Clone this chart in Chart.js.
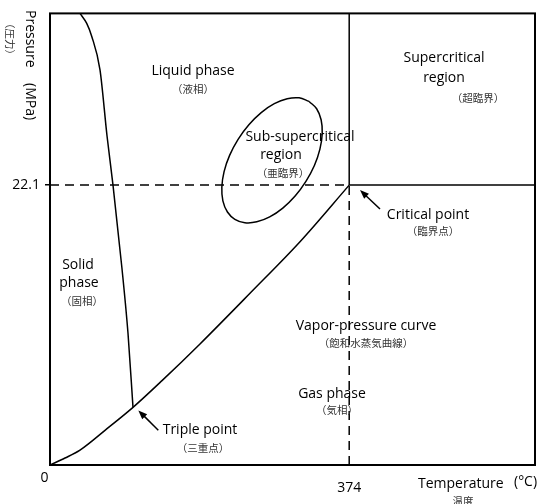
<!DOCTYPE html>
<html lang="en">
<head>
<meta charset="UTF-8">
<title>Phase diagram of water</title>
<script src="https://cdn.jsdelivr.net/npm/chart.js"></script>
<style>
  html, body { margin: 0; padding: 0; background: #fff; }
</style>
</head>
<body>
<canvas id="viz" width="541" height="504"></canvas>
<script>
// axis ticks (temperature in C, pressure in MPa)
const xTicks = [0, 374]
const xTickLabels = ['0   ', ['', '374']]
const yTicks = [22.1]
const xMax = 606.25
const yMax = 35.66

// melting curve (solid / liquid boundary)
const meltT = [37.5, 45.9, 52.1, 62.5, 71.25, 78.75, 90, 97.5, 103.75]
const meltP = [35.66, 34.87, 33.86, 31.2, 26.0, 22.1, 15.5, 10.4, 4.55]

// vapor-pressure curve, triple point -> critical point
const vapT = [0, 18.75, 37.5, 68.75, 103.75, 140, 187.5, 250, 312.5, 374]
const vapP = [0, 0.55, 1.18, 2.74, 4.55, 6.66, 9.56, 13.56, 17.63, 22.1]

// critical point
const critT = 374
const critP = 22.1

// outline of the sub-supercritical region (closed loop)
const ellT = [323.9, 333.3, 338.9, 340.3, 337.4, 330.5, 319.9, 306.4, 291.0, 274.6, 258.5, 243.6,
  231.1, 221.8, 216.1, 214.8, 217.6, 224.5, 235.1, 248.6, 264.0, 280.4, 296.5, 311.4, 323.9]
const ellP = [28.71, 28.13, 27.26, 26.18, 24.94, 23.65, 22.40, 21.24, 20.29, 19.59, 19.20, 19.13,
  19.40, 19.98, 20.86, 21.94, 23.17, 24.45, 25.72, 26.87, 27.83, 28.53, 28.92, 28.99, 28.71]

const pts = (xs, ys) => xs.map((x, i) => ({ x: x, y: ys[i] }))

const line = (data, extra) => Object.assign({
  data: data,
  showLine: true,
  pointRadius: 0,
  borderColor: '#000',
  borderWidth: 1.5,
  fill: false
}, extra || {})

const EN = '"Open Sans", "Noto Sans", sans-serif'
const JP = '"Noto Sans CJK JP", sans-serif'

// labels placed in data units
const notes = [
  { t: 'Liquid phase', x: 178.75, y: 31.11 },
  { t: '（液相）', x: 178.75, y: 29.7, jp: true },
  { t: 'Supercritical', x: 492.5, y: 32.13 },
  { t: 'region', x: 492.5, y: 30.56 },
  { t: '（超臨界）', x: 535, y: 29.0, jp: true },
  { t: 'Sub-supercritical', x: 312.5, y: 25.86 },
  { t: 'region', x: 288.75, y: 24.45 },
  { t: '（亜臨界）', x: 291.25, y: 23.04, jp: true },
  { t: 'Critical point', x: 472.5, y: 19.75 },
  { t: '（臨界点）', x: 478.75, y: 18.5, jp: true },
  { t: 'Solid', x: 35, y: 15.83 },
  { t: 'phase', x: 36.25, y: 14.34 },
  { t: '（固相）', x: 40, y: 12.93, jp: true },
  { t: 'Vapor-pressure curve', x: 395, y: 10.97 },
  { t: '（飽和水蒸気曲線）', x: 395, y: 9.64, jp: true },
  { t: 'Gas phase', x: 352.5, y: 5.64 },
  { t: '（気相）', x: 358.75, y: 4.31, jp: true },
  { t: 'Triple point', x: 187.5, y: 2.74 },
  { t: '（三重点）', x: 191.25, y: 1.33, jp: true }
]

const arrows = [
  { from: [412.5, 20.22], to: [387.5, 21.71] },
  { from: [135.4, 2.74], to: [110.4, 4.31] }
]

const decor = {
  id: 'decor',
  afterDatasetsDraw(chart) {
    const { ctx, chartArea: a, scales: { x, y } } = chart
    ctx.save()
    ctx.strokeStyle = '#000'
    ctx.lineWidth = 2
    ctx.strokeRect(a.left, a.top, a.right - a.left, a.bottom - a.top)

    ctx.textAlign = 'center'
    ctx.textBaseline = 'middle'
    notes.forEach(n => {
      ctx.font = n.jp ? '10.5px ' + JP : '14px ' + EN
      ctx.fillStyle = n.jp ? '#333' : '#000'
      ctx.fillText(n.t, x.getPixelForValue(n.x), y.getPixelForValue(n.y))
    })

    ctx.fillStyle = '#000'
    ctx.lineWidth = 1.5
    arrows.forEach(ar => {
      const x0 = x.getPixelForValue(ar.from[0]), y0 = y.getPixelForValue(ar.from[1])
      const x1 = x.getPixelForValue(ar.to[0]), y1 = y.getPixelForValue(ar.to[1])
      const ang = Math.atan2(y1 - y0, x1 - x0)
      ctx.beginPath()
      ctx.moveTo(x0, y0)
      ctx.lineTo(x1 - 6 * Math.cos(ang), y1 - 6 * Math.sin(ang))
      ctx.stroke()
      ctx.beginPath()
      ctx.moveTo(x1, y1)
      ctx.lineTo(x1 - 9 * Math.cos(ang) + 3.5 * Math.sin(ang), y1 - 9 * Math.sin(ang) - 3.5 * Math.cos(ang))
      ctx.lineTo(x1 - 9 * Math.cos(ang) - 3.5 * Math.sin(ang), y1 - 9 * Math.sin(ang) + 3.5 * Math.cos(ang))
      ctx.closePath()
      ctx.fill()
    })

    // axis titles
    ctx.textAlign = 'left'
    ctx.font = '14px ' + EN
    ctx.fillText('Temperature', 418, 484)
    ctx.fillText('(°C)', 514, 482)
    ctx.textAlign = 'center'
    ctx.font = '10.5px ' + JP
    ctx.fillStyle = '#333'
    ctx.fillText('温度', 463, 501)

    ctx.save()
    ctx.translate(30, 10)
    ctx.rotate(Math.PI / 2)
    ctx.textAlign = 'left'
    ctx.fillStyle = '#000'
    ctx.font = '14px ' + EN
    ctx.fillText('Pressure', 0, 0)
    ctx.fillText('(MPa)', 73, 0)
    ctx.font = '10.5px ' + JP
    ctx.fillStyle = '#333'
    ctx.fillText('（圧力）', 8, 20)
    ctx.restore()
    ctx.restore()
  }
}

const dash = [9, 6]

new Chart(document.getElementById('viz'), {
  type: 'scatter',
  data: {
    datasets: [
      line(pts(meltT, meltP), { cubicInterpolationMode: 'monotone' }),
      line(pts(vapT, vapP), { cubicInterpolationMode: 'monotone' }),
      line(pts([critT, critT], [critP, yMax])),
      line(pts([critT, xMax], [critP, critP])),
      line(pts([0, critT], [critP, critP]), { borderDash: dash }),
      line(pts([critT, critT], [0, critP]), { borderDash: dash }),
      line(pts(ellT, ellP), { tension: 0.4 })
    ]
  },
  options: {
    responsive: false,
    animation: false,
    layout: { padding: { left: 0, right: 6, top: 10, bottom: 0 } },
    plugins: { legend: { display: false }, tooltip: { enabled: false } },
    scales: {
      x: {
        type: 'linear',
        min: 0,
        max: xMax,
        border: { display: false },
        grid: { display: false, drawTicks: false },
        afterBuildTicks: s => { s.ticks = xTicks.map(v => ({ value: v })) },
        afterFit: s => { s.height = 39 },
        ticks: {
          autoSkip: false,
          maxRotation: 0,
          padding: 8,
          color: '#000',
          font: { family: EN, size: 14, lineHeight: '10px' },
          callback: v => xTickLabels[xTicks.indexOf(v)]
        }
      },
      y: {
        type: 'linear',
        min: 0,
        max: yMax,
        border: { display: false },
        grid: { drawOnChartArea: false, drawTicks: true, tickLength: 5, color: '#000', lineWidth: 1.5 },
        afterBuildTicks: s => { s.ticks = yTicks.map(v => ({ value: v })) },
        afterFit: s => { s.width = 50 },
        ticks: {
          padding: 5,
          color: '#000',
          font: { family: EN, size: 14 },
          callback: v => String(v)
        }
      }
    }
  },
  plugins: [decor]
})
</script>
</body>
</html>
